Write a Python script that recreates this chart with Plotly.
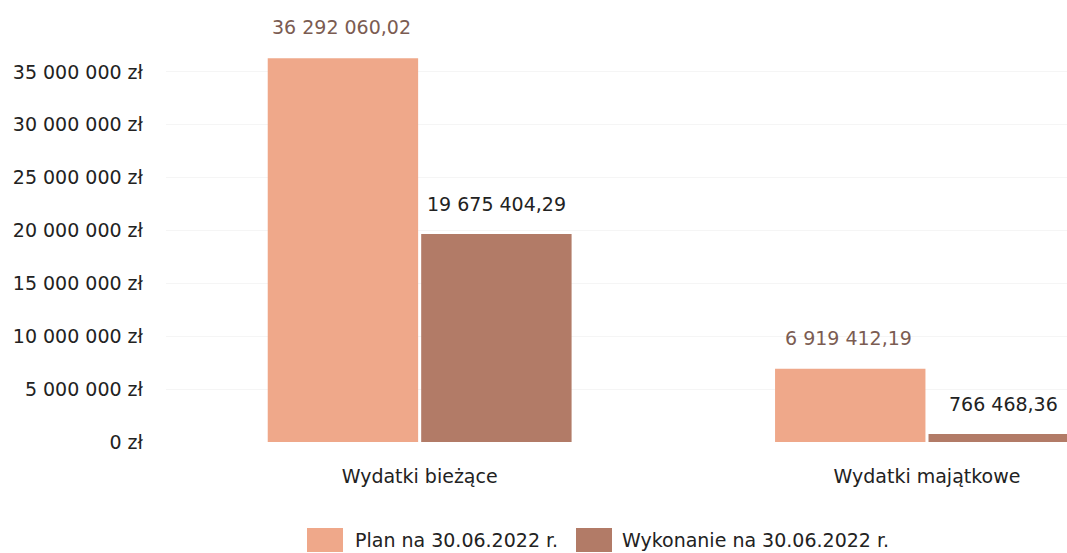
import plotly.graph_objects as go

categories = ["Wydatki bieżące", "Wydatki majątkowe"]
plan_values = [36292060.02, 6919412.19]
wykonanie_values = [19675404.29, 766468.36]
plan_labels = ["36 292 060,02", "6 919 412,19"]
wykonanie_labels = ["19 675 404,29", "766 468,36"]
series_names = ["Plan na 30.06.2022 r.", "Wykonanie na 30.06.2022 r."]
tick_values = [0, 5000000, 10000000, 15000000, 20000000, 25000000, 30000000, 35000000]
tick_labels = ["0 zł", "5 000 000 zł", "10 000 000 zł", "15 000 000 zł",
               "20 000 000 zł", "25 000 000 zł", "30 000 000 zł", "35 000 000 zł"]

PLAN_COLOR = "#EFA88A"
WYK_COLOR = "#B27B67"
FONT = "DejaVu Sans"
FS = 19

W, H = 1067, 553
ML, MR, MT, MB = 166, 0, 19, 111
PW, PH = W - ML - MR, H - MT - MB


def px_x(p):
    return (p - ML) / PW


def px_y(p):
    return (H - MB - p) / PH


fig = go.Figure()
fig.add_trace(go.Bar(x=categories, y=plan_values, name=series_names[0], showlegend=False,
                     marker=dict(color=PLAN_COLOR, line=dict(width=0))))
fig.add_trace(go.Bar(x=categories, y=wykonanie_values, name=series_names[1], showlegend=False,
                     marker=dict(color=WYK_COLOR, line=dict(width=0))))

for i, cat in enumerate(categories):
    fig.add_annotation(x=cat, y=plan_values[i], text=plan_labels[i], showarrow=False,
                       xshift=-78, yshift=31, yanchor="middle",
                       font=dict(family=FONT, size=FS, color="#7b5c52"))
    fig.add_annotation(x=cat, y=wykonanie_values[i], text=wykonanie_labels[i], showarrow=False,
                       xshift=77, yshift=30, yanchor="middle",
                       font=dict(family=FONT, size=FS, color="#222222"))

# custom legend (large swatches as in the reference)
legend_items = [(series_names[0], PLAN_COLOR, 307, 353), (series_names[1], WYK_COLOR, 576, 620)]
for name, color, sx, tx in legend_items:
    fig.add_shape(type="rect", xref="paper", yref="paper",
                  x0=px_x(sx), x1=px_x(sx + 36), y0=px_y(552), y1=px_y(528),
                  fillcolor=color, line=dict(width=0))
    fig.add_annotation(xref="paper", yref="paper", x=px_x(tx), y=px_y(540),
                       xanchor="left", yanchor="middle", text=name, showarrow=False,
                       font=dict(family=FONT, size=FS, color="#222222"))

fig.update_layout(
    width=W, height=H,
    margin=dict(l=ML, r=MR, t=MT, b=MB),
    paper_bgcolor="white", plot_bgcolor="white",
    barmode="group", bargap=0.395, bargroupgap=0.02,
    font=dict(family=FONT, size=FS, color="#222222"),
    showlegend=False,
    xaxis=dict(range=[-0.5, 1.276], showgrid=False, showline=False, zeroline=False,
               automargin=False, ticks="", ticklabelstandoff=21,
               tickfont=dict(family=FONT, size=FS, color="#222222")),
    yaxis=dict(range=[0, 40000000], tickvals=tick_values, ticktext=tick_labels,
               showgrid=True, gridcolor="#f5f5f5", zeroline=False, showline=False,
               automargin=False, ticks="", ticklabelstandoff=22,
               tickfont=dict(family=FONT, size=FS, color="#222222")),
)

fig.write_html("out.html", config={"displayModeBar": False},
               post_script="document.body.style.margin='0px';document.body.style.overflow='hidden';")
